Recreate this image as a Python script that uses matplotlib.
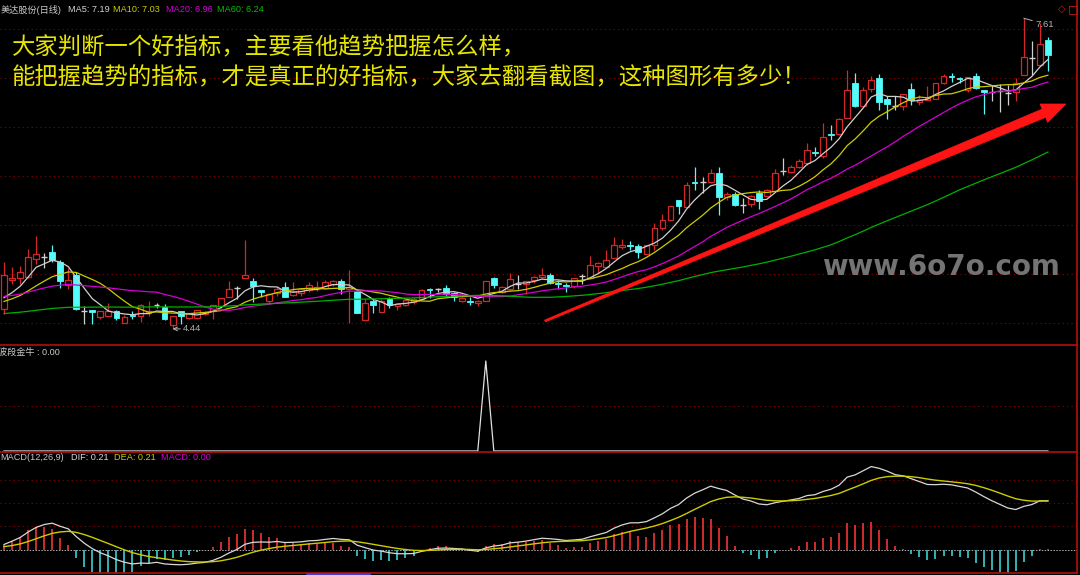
import numpy as np
import matplotlib
matplotlib.use("Agg")
import matplotlib.pyplot as plt
from matplotlib.patches import Polygon, Rectangle
from matplotlib.lines import Line2D

plt.rcParams['font.family'] = ['Liberation Sans', 'Noto Sans CJK SC', 'DejaVu Sans']

W, H, DPI = 1080, 575, 100

# ---- daily bars ----
opens = [4.64, 4.94, 4.96, 4.97, 5.15, 5.17, 5.22, 5.12, 4.89, 4.99,
         4.62, 4.63, 4.56, 4.57, 4.62, 4.50, 4.58, 4.57, 4.60, 4.68,
         4.66, 4.48, 4.62, 4.55, 4.55, 4.59, 4.62, 4.67, 4.77, 4.86,
         4.96, 4.93, 4.84, 4.72, 4.81, 4.87, 4.79, 4.81, 4.84, 4.85,
         4.86, 4.90, 4.93, 4.85, 4.83, 4.53, 4.72, 4.61, 4.75, 4.67,
         4.68, 4.71, 4.74, 4.85, 4.85, 4.86, 4.81, 4.72, 4.72, 4.70,
         4.72, 4.96, 4.82, 4.85, 4.90, 4.90, 4.94, 4.97, 4.99, 4.91,
         4.89, 4.88, 4.98, 4.96, 5.08, 5.07, 5.16, 5.28, 5.30, 5.29,
         5.20, 5.30, 5.47, 5.55, 5.76, 5.68, 5.94, 5.94, 5.94, 6.03,
         5.79, 5.82, 5.70, 5.71, 5.83, 5.80, 5.85, 6.05, 6.04, 6.09,
         6.13, 6.25, 6.20, 6.43, 6.43, 6.59, 6.95, 6.71, 6.89, 7.00,
         6.79, 6.71, 6.71, 6.89, 6.76, 6.78, 6.79, 6.95, 7.02, 7.00,
         6.88, 7.02, 6.88, 6.86, 6.87, 6.85, 6.86, 7.03, 7.20, 7.13,
         7.39]
highs = [5.12, 5.07, 5.08, 5.26, 5.39, 5.21, 5.30, 5.14, 5.06, 5.02,
         4.67, 4.63, 4.62, 4.70, 4.63, 4.58, 4.62, 4.69, 4.72, 4.70,
         4.69, 4.57, 4.62, 4.60, 4.63, 4.62, 4.68, 4.76, 4.93, 4.88,
         5.35, 4.96, 4.84, 4.81, 4.87, 4.92, 4.92, 4.86, 4.92, 4.93,
         4.94, 4.94, 4.95, 5.04, 4.84, 4.74, 4.74, 4.74, 4.77, 4.69,
         4.74, 4.76, 4.85, 4.86, 4.86, 4.89, 4.82, 4.77, 4.77, 4.73,
         4.93, 4.97, 4.88, 5.01, 4.99, 4.93, 4.98, 5.06, 5.01, 4.94,
         4.91, 4.96, 5.00, 5.18, 5.12, 5.24, 5.38, 5.36, 5.34, 5.31,
         5.30, 5.52, 5.61, 5.69, 5.76, 5.94, 6.09, 5.99, 6.07, 6.09,
         5.84, 5.84, 5.78, 5.81, 5.86, 5.87, 6.07, 6.18, 6.11, 6.17,
         6.34, 6.30, 6.54, 6.52, 6.59, 7.08, 7.05, 6.91, 7.02, 7.04,
         6.82, 6.82, 6.84, 6.95, 6.83, 6.92, 6.95, 7.04, 7.05, 7.01,
         7.01, 7.05, 6.88, 6.93, 6.94, 6.93, 7.00, 7.61, 7.38, 7.56,
         7.42]
lows = [4.59, 4.90, 4.90, 4.96, 5.10, 5.06, 5.12, 4.86, 4.85, 4.63,
        4.49, 4.49, 4.54, 4.57, 4.53, 4.50, 4.54, 4.51, 4.57, 4.65,
        4.53, 4.44, 4.49, 4.54, 4.54, 4.58, 4.54, 4.65, 4.77, 4.75,
        4.96, 4.71, 4.77, 4.69, 4.78, 4.77, 4.78, 4.78, 4.82, 4.83,
        4.85, 4.88, 4.80, 4.50, 4.60, 4.53, 4.60, 4.61, 4.65, 4.63,
        4.67, 4.69, 4.73, 4.76, 4.82, 4.78, 4.72, 4.71, 4.68, 4.67,
        4.72, 4.86, 4.81, 4.83, 4.85, 4.80, 4.91, 4.96, 4.90, 4.85,
        4.82, 4.86, 4.90, 4.96, 5.01, 5.07, 5.16, 5.26, 5.24, 5.16,
        5.20, 5.24, 5.45, 5.54, 5.61, 5.68, 5.86, 5.83, 5.93, 5.60,
        5.76, 5.69, 5.62, 5.68, 5.66, 5.79, 5.85, 6.01, 6.03, 6.08,
        6.11, 6.20, 6.18, 6.37, 6.42, 6.59, 6.70, 6.70, 6.86, 6.67,
        6.58, 6.67, 6.67, 6.72, 6.72, 6.78, 6.79, 6.94, 6.96, 6.95,
        6.86, 6.89, 6.63, 6.77, 6.65, 6.72, 6.77, 7.03, 7.03, 7.12,
        7.07]
closes = [4.99, 4.96, 5.02, 5.17, 5.20, 5.17, 5.14, 4.93, 4.94, 4.64,
          4.62, 4.61, 4.62, 4.62, 4.55, 4.56, 4.57, 4.68, 4.62, 4.68,
          4.54, 4.57, 4.57, 4.60, 4.63, 4.61, 4.68, 4.76, 4.85, 4.86,
          4.99, 4.88, 4.82, 4.80, 4.85, 4.77, 4.83, 4.85, 4.89, 4.87,
          4.92, 4.93, 4.85, 4.87, 4.60, 4.70, 4.68, 4.72, 4.68, 4.69,
          4.73, 4.74, 4.84, 4.84, 4.85, 4.80, 4.77, 4.76, 4.71, 4.72,
          4.93, 4.89, 4.87, 4.95, 4.90, 4.93, 4.97, 4.99, 4.91, 4.90,
          4.88, 4.96, 4.98, 5.09, 5.11, 5.14, 5.30, 5.30, 5.29, 5.22,
          5.30, 5.47, 5.55, 5.69, 5.69, 5.91, 5.93, 5.94, 6.03, 5.79,
          5.82, 5.70, 5.70, 5.80, 5.75, 5.86, 6.03, 6.05, 6.09, 6.15,
          6.27, 6.23, 6.40, 6.42, 6.58, 6.88, 6.71, 6.88, 6.98, 6.76,
          6.73, 6.71, 6.84, 6.78, 6.79, 6.80, 6.95, 7.02, 7.01, 6.99,
          7.01, 6.90, 6.86, 6.86, 6.87, 6.85, 6.95, 7.21, 7.20, 7.35,
          7.23]

# moving averages and the average close of the bars before the window
ma_periods = [5, 10, 20, 60]
ma_seed = [4.70, 4.69, 4.76, 4.59]
ma_colors = ['#d0d0d0', '#cccc00', '#d400d4', '#00b000']

# EMA starting level for MACD (12, 26, 9)
ema_seed = 4.72
dea_seed = 0.01

# 波段金牛 signal line
bull_signal = np.zeros(len(closes))
bull_signal[60] = 1.0

stock_name = '美达股份(日线)'
note_lines = ['大家判断一个好指标，主要看他趋势把握怎么样，',
              '能把握趋势的指标，才是真正的好指标，大家去翻看截图，这种图形有多少！']
watermark = 'www.6o7o.com'

# ---- derived series ----
o = np.array(opens); h = np.array(highs); l = np.array(lows); c = np.array(closes)
n = len(c)
idx = np.arange(n)


def moving_average(x, period, seed):
    out = np.empty(len(x))
    for i in range(len(x)):
        if i >= period - 1:
            out[i] = x[i - period + 1:i + 1].mean()
        else:
            out[i] = (x[:i + 1].sum() + (period - 1 - i) * seed) / period
    return out


def ema(x, period, seed):
    out = np.empty(len(x))
    prev = seed
    for i, v in enumerate(x):
        prev = (2 * v + (period - 1) * prev) / (period + 1)
        out[i] = prev
    return out


mas = [moving_average(c, p, s) for p, s in zip(ma_periods, ma_seed)]
dif = ema(c, 12, ema_seed) - ema(c, 26, ema_seed)
dea = ema(dif, 9, dea_seed)
macd = 2 * (dif - dea)

# ---- layout (pixel geometry) ----
fig = plt.figure(figsize=(W / DPI, H / DPI), dpi=DPI, facecolor='black')


def fx(x):
    return x / W


def fy(y):
    return 1 - y / H


X0, STEP, X_RIGHT = 4.0, 8.03, 1077
XLIM = (-X0 / STEP, (X_RIGHT - X0) / STEP)
RED = '#d42828'
CYAN = '#54fcfc'
DOJI = '#cfcfcf'
GRID = '#8c0000'
BORDER = '#b01010'


def panel(top, bottom, ylim):
    ax = fig.add_axes([0, fy(bottom), X_RIGHT / W, (bottom - top) / H])
    ax.set_facecolor('black')
    ax.set_xlim(*XLIM)
    ax.set_ylim(*ylim)
    ax.set_xticks([])
    ax.set_yticks([])
    for s in ax.spines.values():
        s.set_visible(False)
    return ax


# price panel: 4.5 at y=323 px, 98 px per unit
price_lim = (4.5 + (323 - 345) / 98, 4.5 + 323 / 98)
ax = panel(0, 345, price_lim)
ind_ax = panel(345, 452, ((451 - 452) / 90, (451 - 345) / 90))
macd_ax = panel(452, 573, ((549.5 - 573) / 233, (549.5 - 452) / 233))

for g in np.arange(4.5, 7.51, 0.5):
    ax.axhline(g, color=GRID, lw=0.8, ls=(0, (1, 3)), zorder=0)

# candles
bw = 0.72
for i in range(n):
    top, bot = max(o[i], c[i]), min(o[i], c[i])
    if c[i] > o[i]:
        col = RED
    elif c[i] < o[i]:
        col = CYAN
    else:
        col = DOJI
    ax.vlines(i, top, h[i], color=col, lw=0.9, zorder=3)
    ax.vlines(i, l[i], bot, color=col, lw=0.9, zorder=3)
    if c[i] == o[i]:
        ax.hlines(o[i], i - bw / 2, i + bw / 2, color=col, lw=1.0, zorder=3)
    elif c[i] > o[i]:
        ax.add_patch(Rectangle((i - bw / 2, bot), bw, top - bot, facecolor='black',
                               edgecolor=col, lw=0.9, zorder=3))
    else:
        ax.add_patch(Rectangle((i - bw / 2, bot), bw, top - bot, facecolor=col,
                               edgecolor=col, lw=0.6, zorder=3))

for m, col in zip(mas, ma_colors):
    ax.plot(idx, m, color=col, lw=0.9, zorder=4)

# extreme price marks
lo_i = int(np.argmin(l)); hi_i = int(np.argmax(h))
ax.annotate(f'{l[lo_i]:.2f}', xy=(lo_i, l[lo_i]), xytext=(lo_i + 1.3, l[lo_i]),
            color='#b4b4b4', fontsize=6.8, va='center', ha='left',
            arrowprops=dict(arrowstyle='->', color='#b4b4b4', lw=0.7,
                            shrinkA=0, shrinkB=0), zorder=6)
ax.annotate(f'{h[hi_i]:.2f}', xy=(hi_i, h[hi_i]), xytext=(hi_i + 1.4, h[hi_i] - 0.06),
            color='#b4b4b4', fontsize=6.8, va='center', ha='left',
            arrowprops=dict(arrowstyle='-', color='#b4b4b4', lw=0.7,
                            shrinkA=0, shrinkB=0), zorder=6)

# indicator panel
ind_ax.axhline(0.5, color=GRID, lw=0.8, ls=(0, (1, 3)), zorder=0)
ind_ax.plot(idx, bull_signal, color='#e0e0e0', lw=0.9)

# MACD panel
for g in (0.1, 0.2, 0.3):
    macd_ax.axhline(g, color=GRID, lw=0.8, ls=(0, (1, 3)), zorder=0)
macd_ax.axhline(0, color='#b0b0b0', lw=0.7, ls=(0, (1.5, 1.5)), zorder=1)
macd_ax.vlines(idx, 0, macd, colors=np.where(macd >= 0, '#e03030', '#38c0c0'),
               lw=1.3, zorder=2)
macd_ax.plot(idx, dif, color='#d8d8d8', lw=0.9, zorder=3)
macd_ax.plot(idx, dea, color='#cccc00', lw=1.0, zorder=3)

# frame lines
for y in (345, 452, 573):
    fig.add_artist(Line2D([0, fx(X_RIGHT)], [fy(y), fy(y)], color=BORDER, lw=1.2))
fig.add_artist(Line2D([fx(X_RIGHT), fx(X_RIGHT)], [fy(0), fy(573)], color=BORDER, lw=1.2))
fig.add_artist(Line2D([fx(307), fx(369)], [fy(573.5), fy(573.5)], color='#4a3cd0', lw=2.0))


def put(x, y, s, color, size=6.6, **kw):
    return fig.text(fx(x), fy(y), s, color=color, fontsize=size, va='center',
                    ha='left', **kw)


def fmt(v):
    s = f'{v:.2f}'
    return '0.00' if s == '-0.00' else s


# header of price panel
put(1, 10, stock_name, '#c8c8c8')
put(68, 10, f'MA5: {mas[0][-1]:.2f}', '#d4d4d4')
put(113, 10, f'MA10: {mas[1][-1]:.2f}', '#cccc00')
put(166, 10, f'MA20: {mas[2][-1]:.2f}', '#d400d4')
put(217, 10, f'MA60: {mas[3][-1]:.2f}', '#00c000')
put(1058, 9, '◇', '#d02020', size=7, family='DejaVu Sans')
put(1068, 9, '□', '#d02020', size=8, family='DejaVu Sans')

put(-2, 352, f'波段金牛 : {fmt(bull_signal[-1])}', '#c8c8c8')
put(0, 457, 'MACD(12,26,9)', '#c8c8c8')
put(71, 457, f'DIF: {fmt(dif[-1])}', '#d8d8d8')
put(114, 457, f'DEA: {fmt(dea[-1])}', '#cccc00')
put(161, 457, f'MACD: {fmt(macd[-1])}', '#d400d4')

# commentary
put(12, 47, note_lines[0], '#e6e600', size=16.8, family=['Noto Sans CJK SC'])
put(12, 77, note_lines[1], '#e6e600', size=16.8, family=['Noto Sans CJK SC'])

# watermark, sized to its box
wm = put(822, 267, watermark, '#747474', size=20, family='DejaVu Sans', weight='bold')
r = fig.canvas.get_renderer()
wm.set_fontsize(20 * 238 / wm.get_window_extent(r).width)

# trend arrow
S = np.array([545.0, 321.0]); T = np.array([1066.0, 104.0])
u = (T - S) / np.linalg.norm(T - S)
nv = np.array([u[1], -u[0]])
B = T - 24 * u
pts = [S + 1.0 * nv, B + 4.5 * nv, B + 10 * nv, T, B - 10 * nv, B - 4.5 * nv, S - 1.0 * nv]
fig.add_artist(Polygon([(fx(p[0]), fy(p[1])) for p in pts], closed=True,
                       facecolor='#ff1414', edgecolor='#ff1414', lw=0.5,
                       transform=fig.transFigure, zorder=10))

fig.savefig('out.png', dpi=DPI, facecolor='black')
